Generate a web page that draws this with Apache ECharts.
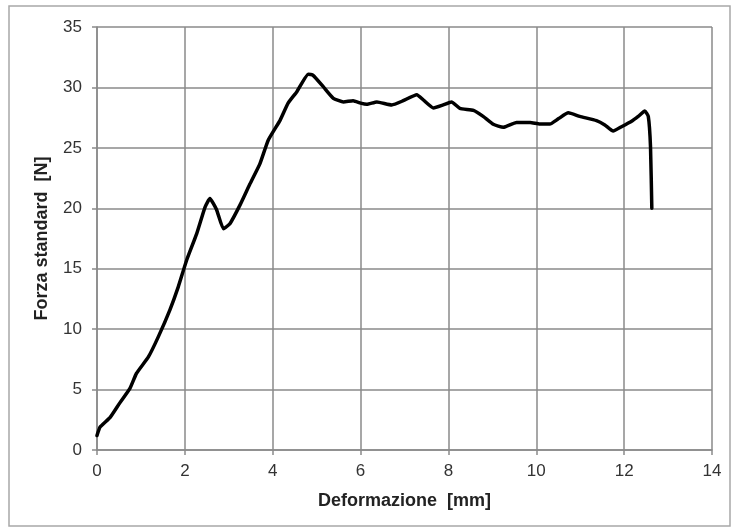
<!DOCTYPE html>
<html>
<head>
<meta charset="utf-8">
<script src="https://cdn.jsdelivr.net/npm/echarts@6/dist/echarts.min.js"></script>
<style>
html,body{margin:0;padding:0;background:#fff;}
#chart{width:732px;height:529px;}
</style>
</head>
<body>
<div id="chart"></div>
<script>
// Deformazione [mm]
var xValues = [0.00,0.07,0.30,0.52,0.75,0.90,1.17,1.40,1.66,1.85,2.04,2.27,2.46,2.57,2.72,2.88,3.03,3.26,3.48,3.71,3.90,4.17,4.35,4.55,4.81,4.92,5.15,5.38,5.61,5.83,6.00,6.14,6.37,6.71,6.97,7.28,7.43,7.66,7.88,8.07,8.26,8.57,8.79,9.02,9.25,9.55,9.86,10.08,10.31,10.50,10.73,10.99,11.37,11.56,11.75,11.94,12.17,12.32,12.47,12.55,12.60,12.63];
// Forza standard [N]
var yValues = [1.2,1.9,2.7,3.9,5.1,6.35,7.7,9.4,11.6,13.5,15.7,17.9,20.1,20.8,19.9,18.3,18.75,20.3,22.0,23.7,25.65,27.3,28.7,29.65,31.1,31.0,30.06,29.1,28.8,28.9,28.7,28.6,28.8,28.55,28.9,29.4,28.96,28.3,28.55,28.8,28.27,28.1,27.6,26.95,26.7,27.1,27.1,26.97,26.97,27.4,27.9,27.6,27.25,26.9,26.4,26.75,27.2,27.6,28.05,27.6,25.1,20.0];
var xTicks = [0,2,4,6,8,10,12,14];
var yTicks = [0,5,10,15,20,25,30,35];

var pts = xValues.map(function(x,i){return [x,yValues[i]];});
var chart = echarts.init(document.getElementById('chart'));
var gridColor = '#8a8a8a';
chart.setOption({
  backgroundColor:'#fff',
  animation:false,
  graphic:[{type:'rect',shape:{x:9,y:6,width:721,height:520},style:{fill:'none',stroke:'#a8a8a8',lineWidth:1.5},silent:true,z:-1}],
  grid:{left:97,right:20,top:27,bottom:79},
  xAxis:{
    type:'value',min:xTicks[0],max:xTicks[xTicks.length-1],interval:2,
    name:'Deformazione  [mm]',nameLocation:'middle',nameGap:42,
    nameTextStyle:{fontFamily:'Liberation Sans',fontWeight:'bold',fontSize:18,color:'#222'},
    axisLine:{show:true,lineStyle:{color:gridColor,width:1.5}},
    axisTick:{show:true,length:5,lineStyle:{color:gridColor,width:1.5}},
    axisLabel:{fontFamily:'Liberation Sans',fontSize:17,color:'#333',margin:13},
    splitLine:{show:true,lineStyle:{color:gridColor,width:1.5}}
  },
  yAxis:{
    type:'value',min:yTicks[0],max:yTicks[yTicks.length-1],interval:5,
    name:'Forza standard  [N]',nameLocation:'middle',nameGap:46,
    nameTextStyle:{fontFamily:'Liberation Sans',fontWeight:'bold',fontSize:18,color:'#222'},
    axisLine:{show:true,lineStyle:{color:gridColor,width:1.5}},
    axisTick:{show:true,length:5,lineStyle:{color:gridColor,width:1.5}},
    axisLabel:{fontFamily:'Liberation Sans',fontSize:17,color:'#333',margin:15},
    splitLine:{show:true,lineStyle:{color:gridColor,width:1.5}}
  },
  series:[{
    type:'line',data:pts,smooth:0.15,showSymbol:false,
    lineStyle:{color:'#000',width:3.5,cap:'round',join:'round'},
    z:5
  }]
});
</script>
</body>
</html>
